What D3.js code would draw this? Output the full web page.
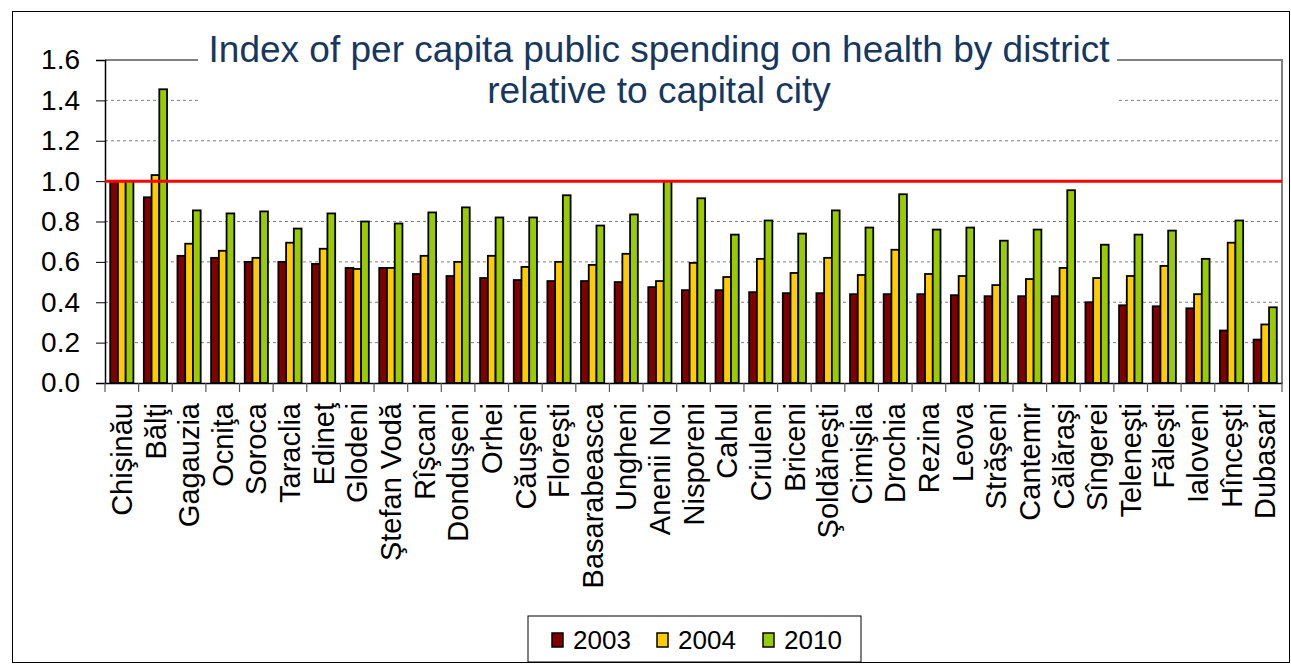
<!DOCTYPE html>
<html><head><meta charset="utf-8">
<script src="https://cdn.jsdelivr.net/npm/d3@7"></script>
<style>
html,body{margin:0;padding:0;background:#fff;}
svg{display:block;font-family:"Liberation Sans",Arial,sans-serif;}
</style></head>
<body><svg id="chart" width="1291" height="666"></svg>
<script>
const districts = ["Chişinău","Bălţi","Gagauzia","Ocniţa","Soroca","Taraclia","Edineţ","Glodeni","Ştefan Vodă","Rîşcani","Donduşeni","Orhei","Căuşeni","Floreşti","Basarabeasca","Ungheni","Anenii Noi","Nisporeni","Cahul","Criuleni","Briceni","Şoldăneşti","Cimişlia","Drochia","Rezina","Leova","Străşeni","Cantemir","Călăraşi","Sîngerei","Teleneşti","Făleşti","Ialoveni","Hînceşti","Dubasari"];
const seriesNames = ["2003","2004","2010"];
const v2003 = [1.00,0.92,0.63,0.62,0.60,0.60,0.59,0.57,0.57,0.54,0.53,0.52,0.51,0.505,0.505,0.50,0.475,0.46,0.46,0.45,0.445,0.445,0.44,0.44,0.44,0.435,0.43,0.43,0.43,0.40,0.385,0.38,0.37,0.26,0.215];
const v2004 = [1.00,1.03,0.69,0.655,0.62,0.695,0.665,0.565,0.57,0.63,0.60,0.63,0.575,0.60,0.585,0.64,0.505,0.595,0.525,0.615,0.545,0.62,0.535,0.66,0.54,0.53,0.485,0.515,0.57,0.52,0.53,0.58,0.44,0.695,0.29];
const v2010 = [1.00,1.455,0.855,0.84,0.85,0.765,0.84,0.80,0.79,0.845,0.87,0.82,0.82,0.93,0.78,0.835,1.00,0.915,0.735,0.805,0.74,0.855,0.77,0.935,0.76,0.77,0.705,0.76,0.955,0.685,0.735,0.755,0.615,0.805,0.375];
const yTicks = [0,0.2,0.4,0.6,0.8,1.0,1.2,1.4,1.6];
const referenceValue = 1.0;
const titleLines = ["Index of per capita public spending on health by district","relative to capital city"];
const colors = {"2003":"#800000","2004":"#FFCC00","2010":"#99CC00"};

(function(){
const FONT = "'Liberation Sans', Arial, sans-serif";
const seriesValues = {"2003":v2003,"2004":v2004,"2010":v2010};
const rows = districts.map((d,i)=>({name:d, vals: seriesNames.map(s=>({s, v: seriesValues[s][i]}))}));

const svg = d3.select("#chart");
const pL=105, pR=1282, pT=60, pB=383;

svg.append("rect").attr("x",12.5).attr("y",11.5).attr("width",1277).attr("height",651)
  .attr("fill","#fff").attr("stroke","#000").attr("stroke-width",1);

const x0 = d3.scaleBand().domain(districts).range([pL,pR]).padding(0);
const bw = x0.bandwidth();
const x1 = d3.scaleBand().domain(seriesNames).range([0.155*bw, 0.845*bw]).padding(0);
const y = d3.scaleLinear().domain([0,1.6]).range([pB,pT]);

svg.append("g").selectAll("line").data(yTicks.filter(t=>t>0 && t<1.6)).join("line")
  .attr("x1",pL).attr("x2",pR).attr("y1",d=>y(d)).attr("y2",d=>y(d))
  .attr("stroke","#808080").attr("stroke-width",1).attr("stroke-dasharray","3,3");

svg.append("path").attr("d",`M${pL},${y(1.6)}H${pR}V${pB}`)
  .attr("fill","none").attr("stroke","#808080").attr("stroke-width",2);

const g = svg.append("g").selectAll("g").data(rows).join("g")
  .attr("transform",d=>`translate(${x0(d.name)},0)`);
g.selectAll("rect").data(d=>d.vals).join("rect")
  .attr("x",d=>x1(d.s)).attr("width",x1.bandwidth())
  .attr("y",d=>y(d.v)).attr("height",d=>y(0)-y(d.v))
  .attr("fill",d=>colors[d.s]).attr("stroke","#000").attr("stroke-width",1.8);

const tg = svg.append("g");
tg.append("rect").attr("x",198).attr("y",28).attr("width",919).attr("height",82).attr("fill","#fff");
tg.selectAll("text").data(titleLines).join("text")
  .attr("x",659).attr("y",(d,i)=>62+i*41).attr("text-anchor","middle")
  .attr("font-family",FONT).attr("font-size",37).attr("fill","#17375E").text(d=>d);

const yAxis = d3.axisLeft(y).tickValues(yTicks).tickFormat(d3.format(".1f")).tickSize(9).tickPadding(16);
const ya = svg.append("g").attr("transform",`translate(${pL},0)`).call(yAxis);
ya.select(".domain").attr("stroke","#000").attr("stroke-width",1.5);
ya.selectAll(".tick line").attr("stroke","#000").attr("stroke-width",1);
ya.selectAll(".tick text").attr("font-size",28).attr("fill","#000").attr("font-family",FONT);

const xAxis = d3.axisBottom(x0).tickSize(0).tickPadding(0);
const xa = svg.append("g").attr("transform",`translate(0,${pB})`).call(xAxis);
xa.select(".domain").attr("stroke","#000").attr("stroke-width",1.5);
xa.selectAll(".tick text").attr("font-size",29).attr("fill","#000").attr("font-family",FONT)
  .attr("text-anchor","end").attr("transform","rotate(-90)")
  .attr("x",-20).attr("y",0).attr("dy","0.35em");
svg.append("g").selectAll("line").data(districts.concat(["__end"])).join("line")
  .attr("x1",d=>d==="__end"?pR:x0(d)).attr("x2",d=>d==="__end"?pR:x0(d))
  .attr("y1",pB).attr("y2",pB+9).attr("stroke","#555").attr("stroke-width",1.2);

svg.append("line").attr("x1",pL).attr("x2",pR).attr("y1",y(referenceValue)).attr("y2",y(referenceValue))
  .attr("stroke","#FF0000").attr("stroke-width",3);

const lg = svg.append("g");
lg.append("rect").attr("x",528).attr("y",616).attr("width",333).attr("height",46)
  .attr("fill","#fff").attr("stroke","#000").attr("stroke-width",1);
const legX = [552,657,763];
const li = lg.selectAll("g.it").data(seriesNames).join("g").attr("class","it")
  .attr("transform",(d,i)=>`translate(${legX[i]},633)`);
li.append("rect").attr("width",11).attr("height",14).attr("fill",d=>colors[d]).attr("stroke","#000").attr("stroke-width",1.5);
li.append("text").attr("x",21).attr("y",15.5).attr("font-size",26).attr("font-family",FONT).attr("fill","#000").text(d=>d);
})();
</script></body></html>
